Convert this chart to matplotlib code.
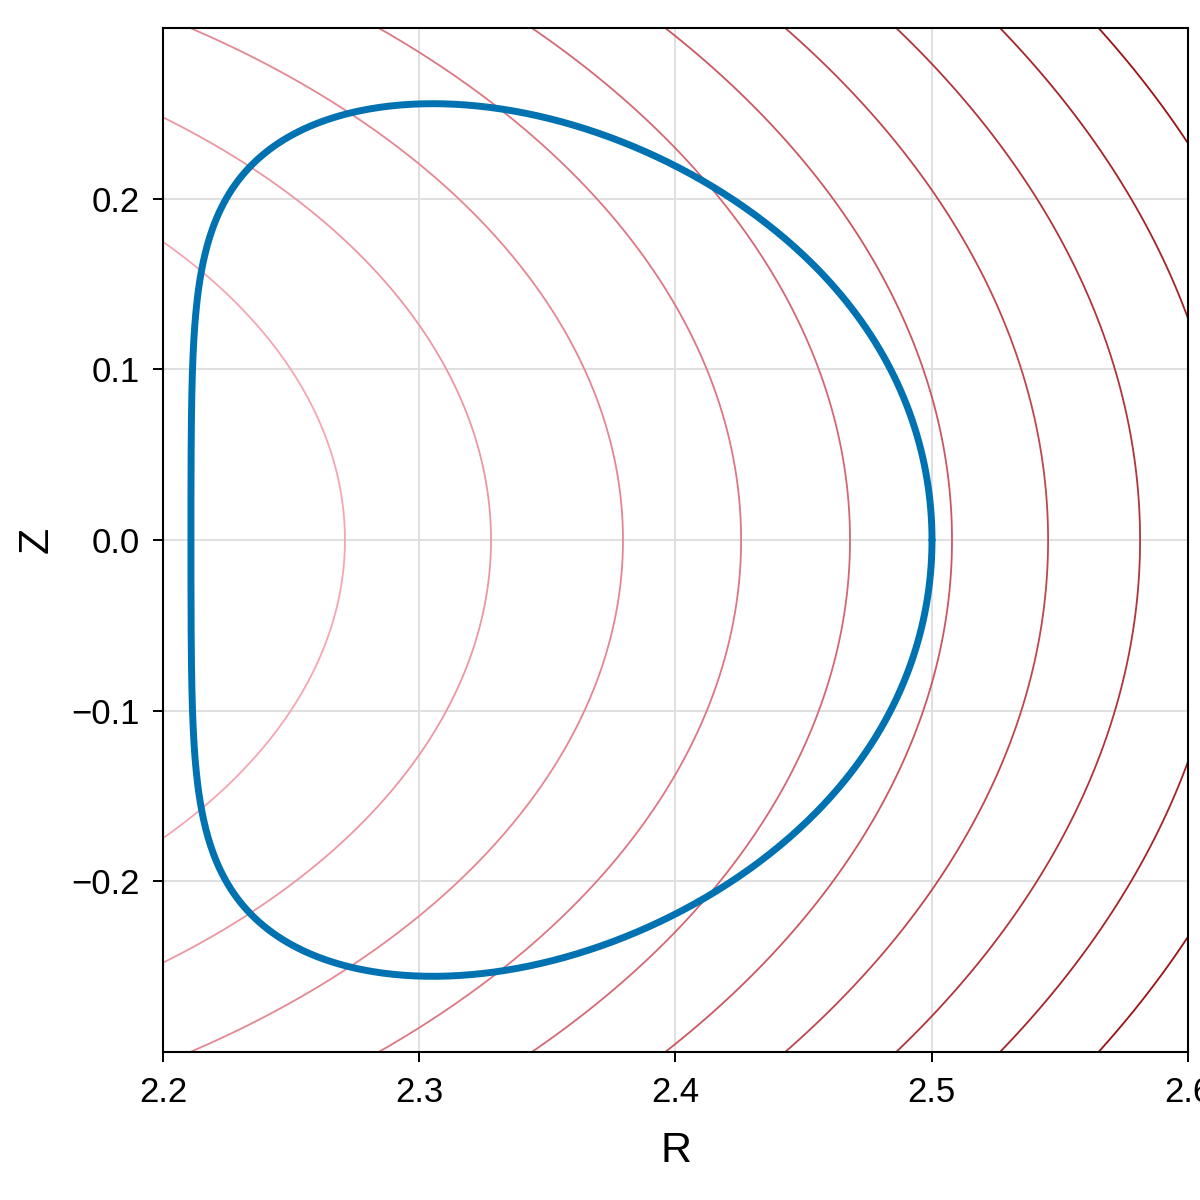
import numpy as np
import matplotlib
matplotlib.use("Agg")
import matplotlib.pyplot as plt
from matplotlib.colors import LinearSegmentedColormap

# ---------------- data ----------------
# contour lines: R where each flux contour crosses Z = 0
contour_R_at_midplane = [2.271, 2.328, 2.3795, 2.4256, 2.4681, 2.5079, 2.5454, 2.5813, 2.6157, 2.649]
contour_center_R = 1.987          # common centre of the (near-elliptic) contours
contour_Z_scale = 0.93            # vertical compression of the contours

# plasma boundary (Miller extended harmonic shape)
bnd_R0 = 2.3555
bnd_a = 0.1446
bnd_kappa = 1.768
bnd_sin_coeffs = [0.3954, -0.1418, 0.0408, -0.015]

xticks = [2.2, 2.3, 2.4, 2.5, 2.6]
yticks = [-0.2, -0.1, 0.0, 0.1, 0.2]
xlim = (2.2, 2.6)
ylim = (-0.3, 0.3)

# ---------------- figure ----------------
plt.rcParams['font.family'] = ['Liberation Sans', 'DejaVu Sans']
fig = plt.figure(figsize=(12, 12), dpi=100)
ax = fig.add_axes([163/1200, 1 - 1052/1200, (1188-163)/1200, (1052-28)/1200])

# field for contours
Rg = np.linspace(xlim[0] - 0.01, xlim[1] + 0.01, 600)
Zg = np.linspace(ylim[0] - 0.01, ylim[1] + 0.01, 600)
RR, ZZ = np.meshgrid(Rg, Zg)
psi = (RR - contour_center_R) ** 2 + (ZZ / contour_Z_scale) ** 2
levels = [(r - contour_center_R) ** 2 for r in contour_R_at_midplane]

cmap = LinearSegmentedColormap.from_list("pinkred", ["#f4a6b2", "#d0606c", "#9a1216"])
cols = [cmap(i / (len(levels) - 1)) for i in range(len(levels))]
ax.contour(RR, ZZ, psi, levels=levels, colors=cols, linewidths=1.3, zorder=2)

# boundary
theta = np.linspace(0, 2 * np.pi, 721)
arg = theta.copy()
for n, s in enumerate(bnd_sin_coeffs, start=1):
    arg = arg + s * np.sin(n * theta)
Rb = bnd_R0 + bnd_a * np.cos(arg)
Zb = bnd_kappa * bnd_a * np.sin(theta)
ax.plot(Rb, Zb, color="#0072B2", lw=5.0, zorder=3, solid_capstyle="round")

ax.set_xlim(*xlim)
ax.set_ylim(*ylim)
ax.set_xticks(xticks)
ax.set_yticks(yticks)
ax.set_xticklabels([f"{v:.1f}" for v in xticks])
ax.set_yticklabels([f"{v:.1f}".replace("-", "\u2212") for v in yticks])
ax.grid(True, color="#e0e0e0", linewidth=1.4, zorder=0)
ax.set_axisbelow(True)
for sp in ax.spines.values():
    sp.set_linewidth(1.5)
ax.tick_params(direction="out", length=7, width=1.4, labelsize=25, pad=10)
ax.set_xlabel("R", fontsize=31, labelpad=16)
ax.set_ylabel("Z", fontsize=31, labelpad=10)

fig.savefig("out.png", dpi=100)
